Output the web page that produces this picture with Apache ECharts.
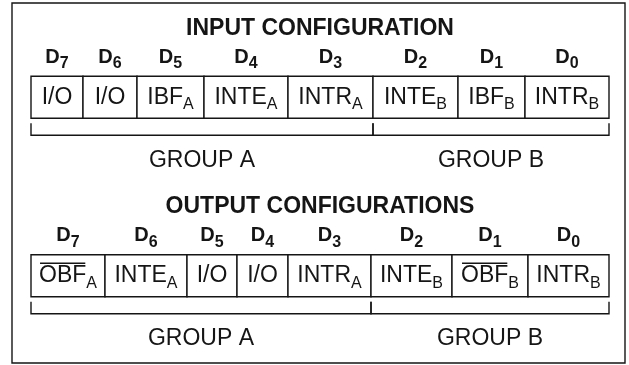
<!DOCTYPE html>
<html><head><meta charset="utf-8">
<script src="https://cdn.jsdelivr.net/npm/echarts@6/dist/echarts.min.js"></script>
<style>html,body{margin:0;padding:0;background:#fff}#c{width:629px;height:365px}</style>
</head><body><div id="c"></div>
<script>
// ---- data ----
const rowTitles = ['INPUT CONFIGURATION', 'OUTPUT CONFIGURATIONS'];
const bitNames = ['7', '6', '5', '4', '3', '2', '1', '0'];
const inputLabels = ['I/O', 'I/O', 'IBF_A', 'INTE_A', 'INTR_A', 'INTE_B', 'IBF_B', 'INTR_B'];
const outputLabels = ['~OBF_A', 'INTE_A', 'I/O', 'I/O', 'INTR_A', 'INTE_B', '~OBF_B', 'INTR_B'];
const inputWidths = [52, 54, 67, 84, 85, 85, 67, 84];
const outputWidths = [74, 82, 50, 51, 83, 81, 76, 81];
const groupNames = ['GROUP A', 'GROUP B'];
const groupBitCounts = [5, 3];

// ---- build ----
const FONT = '"Liberation Sans", Arial, Helvetica, sans-serif';
const INK = '#151515';
const labelsByRow = [inputLabels, outputLabels];
const total = inputWidths.reduce((a, b) => a + b, 0);

function cellData(widths, row) {
  let acc = 0;
  return widths.map((w, i) => { const d = [acc, row, acc + w, i]; acc += w; return d; });
}
function groupData(widths, row) {
  let acc = 0, bi = 0;
  return groupBitCounts.map((n, g) => {
    const s = acc;
    for (let k = 0; k < n; k++) acc += widths[bi++];
    return [s, row, acc, g];
  });
}
const cells = cellData(inputWidths, 0).concat(cellData(outputWidths, 1));
const groups = groupData(inputWidths, 0).concat(groupData(outputWidths, 1));
const titles = rowTitles.map((t, i) => [total / 2, i]);

const canvas = document.createElement('canvas');
const ctx = canvas.getContext('2d');
function tw(text, size, weight) { ctx.font = (weight || 'normal') + ' ' + size + 'px ' + FONT; return ctx.measureText(text).width; }

function parseLabel(lbl) {
  const over = lbl[0] === '~';
  const s = over ? lbl.slice(1) : lbl;
  const parts = s.split('_');
  return { over, main: parts[0], sub: parts[1] || '' };
}
// main text + lowered subscript, centred on cx; y is the em-middle of the main text
function subText(cx, y, main, sub, mSize, sSize, weight, dy) {
  const wm = tw(main, mSize, weight), ws = sub ? tw(sub, sSize, weight) : 0;
  const left = cx - (wm + ws) / 2;
  const els = [{ type: 'text', x: left, y: y, style: { text: main, align: 'left', verticalAlign: 'middle',
    fontSize: mSize, fontWeight: weight, fontFamily: FONT, fill: INK } }];
  if (sub) els.push({ type: 'text', x: left + wm, y: y + dy, style: { text: sub, align: 'left', verticalAlign: 'middle',
    fontSize: sSize, fontWeight: weight, fontFamily: FONT, fill: INK } });
  return { els, left, wm };
}

const MAIN = 23, SUB = 16, CELL_H = 42;

function renderCell(params, api) {
  const x0 = api.value(0), row = api.value(1), x1 = api.value(2), idx = api.value(3);
  const p0 = api.coord([x0, row]), p1 = api.coord([x1, row]);
  const cy = p0[1], top = cy - CELL_H / 2, cx = (p0[0] + p1[0]) / 2;
  const L = parseLabel(labelsByRow[row][idx]);
  const children = [
    { type: 'rect', shape: { x: p0[0], y: top, width: p1[0] - p0[0], height: CELL_H },
      style: { fill: '#fff', stroke: INK, lineWidth: 1.4 } }
  ];
  const t = subText(cx, cy, L.main, L.sub, MAIN, SUB, 'normal', 7.5);
  children.push(...t.els);
  const d = subText(cx, top - 19, 'D', bitNames[idx], 20, 16, 'bold', 6.5);
  children.push(...d.els);
  if (L.over) {
    children.push({ type: 'line', shape: { x1: t.left + 1, y1: cy - 12.5, x2: t.left + t.wm - 1, y2: cy - 12.5 },
      style: { stroke: INK, lineWidth: 1.3 } });
  }
  return { type: 'group', children };
}

function renderGroup(params, api) {
  const x0 = api.value(0), row = api.value(1), x1 = api.value(2), g = api.value(3);
  const p0 = api.coord([x0, row]), p1 = api.coord([x1, row]);
  const bottom = p0[1] + CELL_H / 2;
  const yT = bottom + 5, yB = bottom + 17;
  return { type: 'group', children: [
    { type: 'polyline', shape: { points: [[p0[0], yT], [p0[0], yB], [p1[0], yB], [p1[0], yT]] },
      style: { stroke: INK, fill: null, lineWidth: 1.4 } },
    { type: 'text', x: (p0[0] + p1[0]) / 2, y: bottom + 42, style: {
        text: groupNames[g], align: 'center', verticalAlign: 'middle',
        fontSize: MAIN, fontFamily: FONT, fill: INK } }
  ] };
}

function renderTitle(params, api) {
  const p = api.coord([api.value(0), api.value(1)]);
  return { type: 'text', x: p[0], y: p[1] - CELL_H / 2 - 48, style: {
    text: rowTitles[params.dataIndex], align: 'center', verticalAlign: 'middle',
    fontSize: 23, fontWeight: 'bold', fontFamily: FONT, fill: INK } };
}

const chart = echarts.init(document.getElementById('c'), null, { renderer: 'canvas' });
chart.setOption({
  animation: false,
  backgroundColor: '#fff',
  grid: { left: 31, right: 20, top: 8, height: 358 },
  xAxis: { type: 'value', min: 0, max: total, show: false },
  yAxis: { type: 'category', data: rowTitles, inverse: true, show: false },
  graphic: [{ type: 'rect', shape: { x: 12, y: 3, width: 613, height: 360 },
    style: { fill: 'none', stroke: INK, lineWidth: 1.4 }, silent: true }],
  series: [
    { type: 'custom', name: 'cells', renderItem: renderCell, data: cells, encode: { x: [0, 2], y: 1 }, silent: true },
    { type: 'custom', name: 'groups', renderItem: renderGroup, data: groups, encode: { x: [0, 2], y: 1 }, silent: true },
    { type: 'custom', name: 'titles', renderItem: renderTitle, data: titles, encode: { x: 0, y: 1 }, silent: true }
  ]
});
</script></body></html>
